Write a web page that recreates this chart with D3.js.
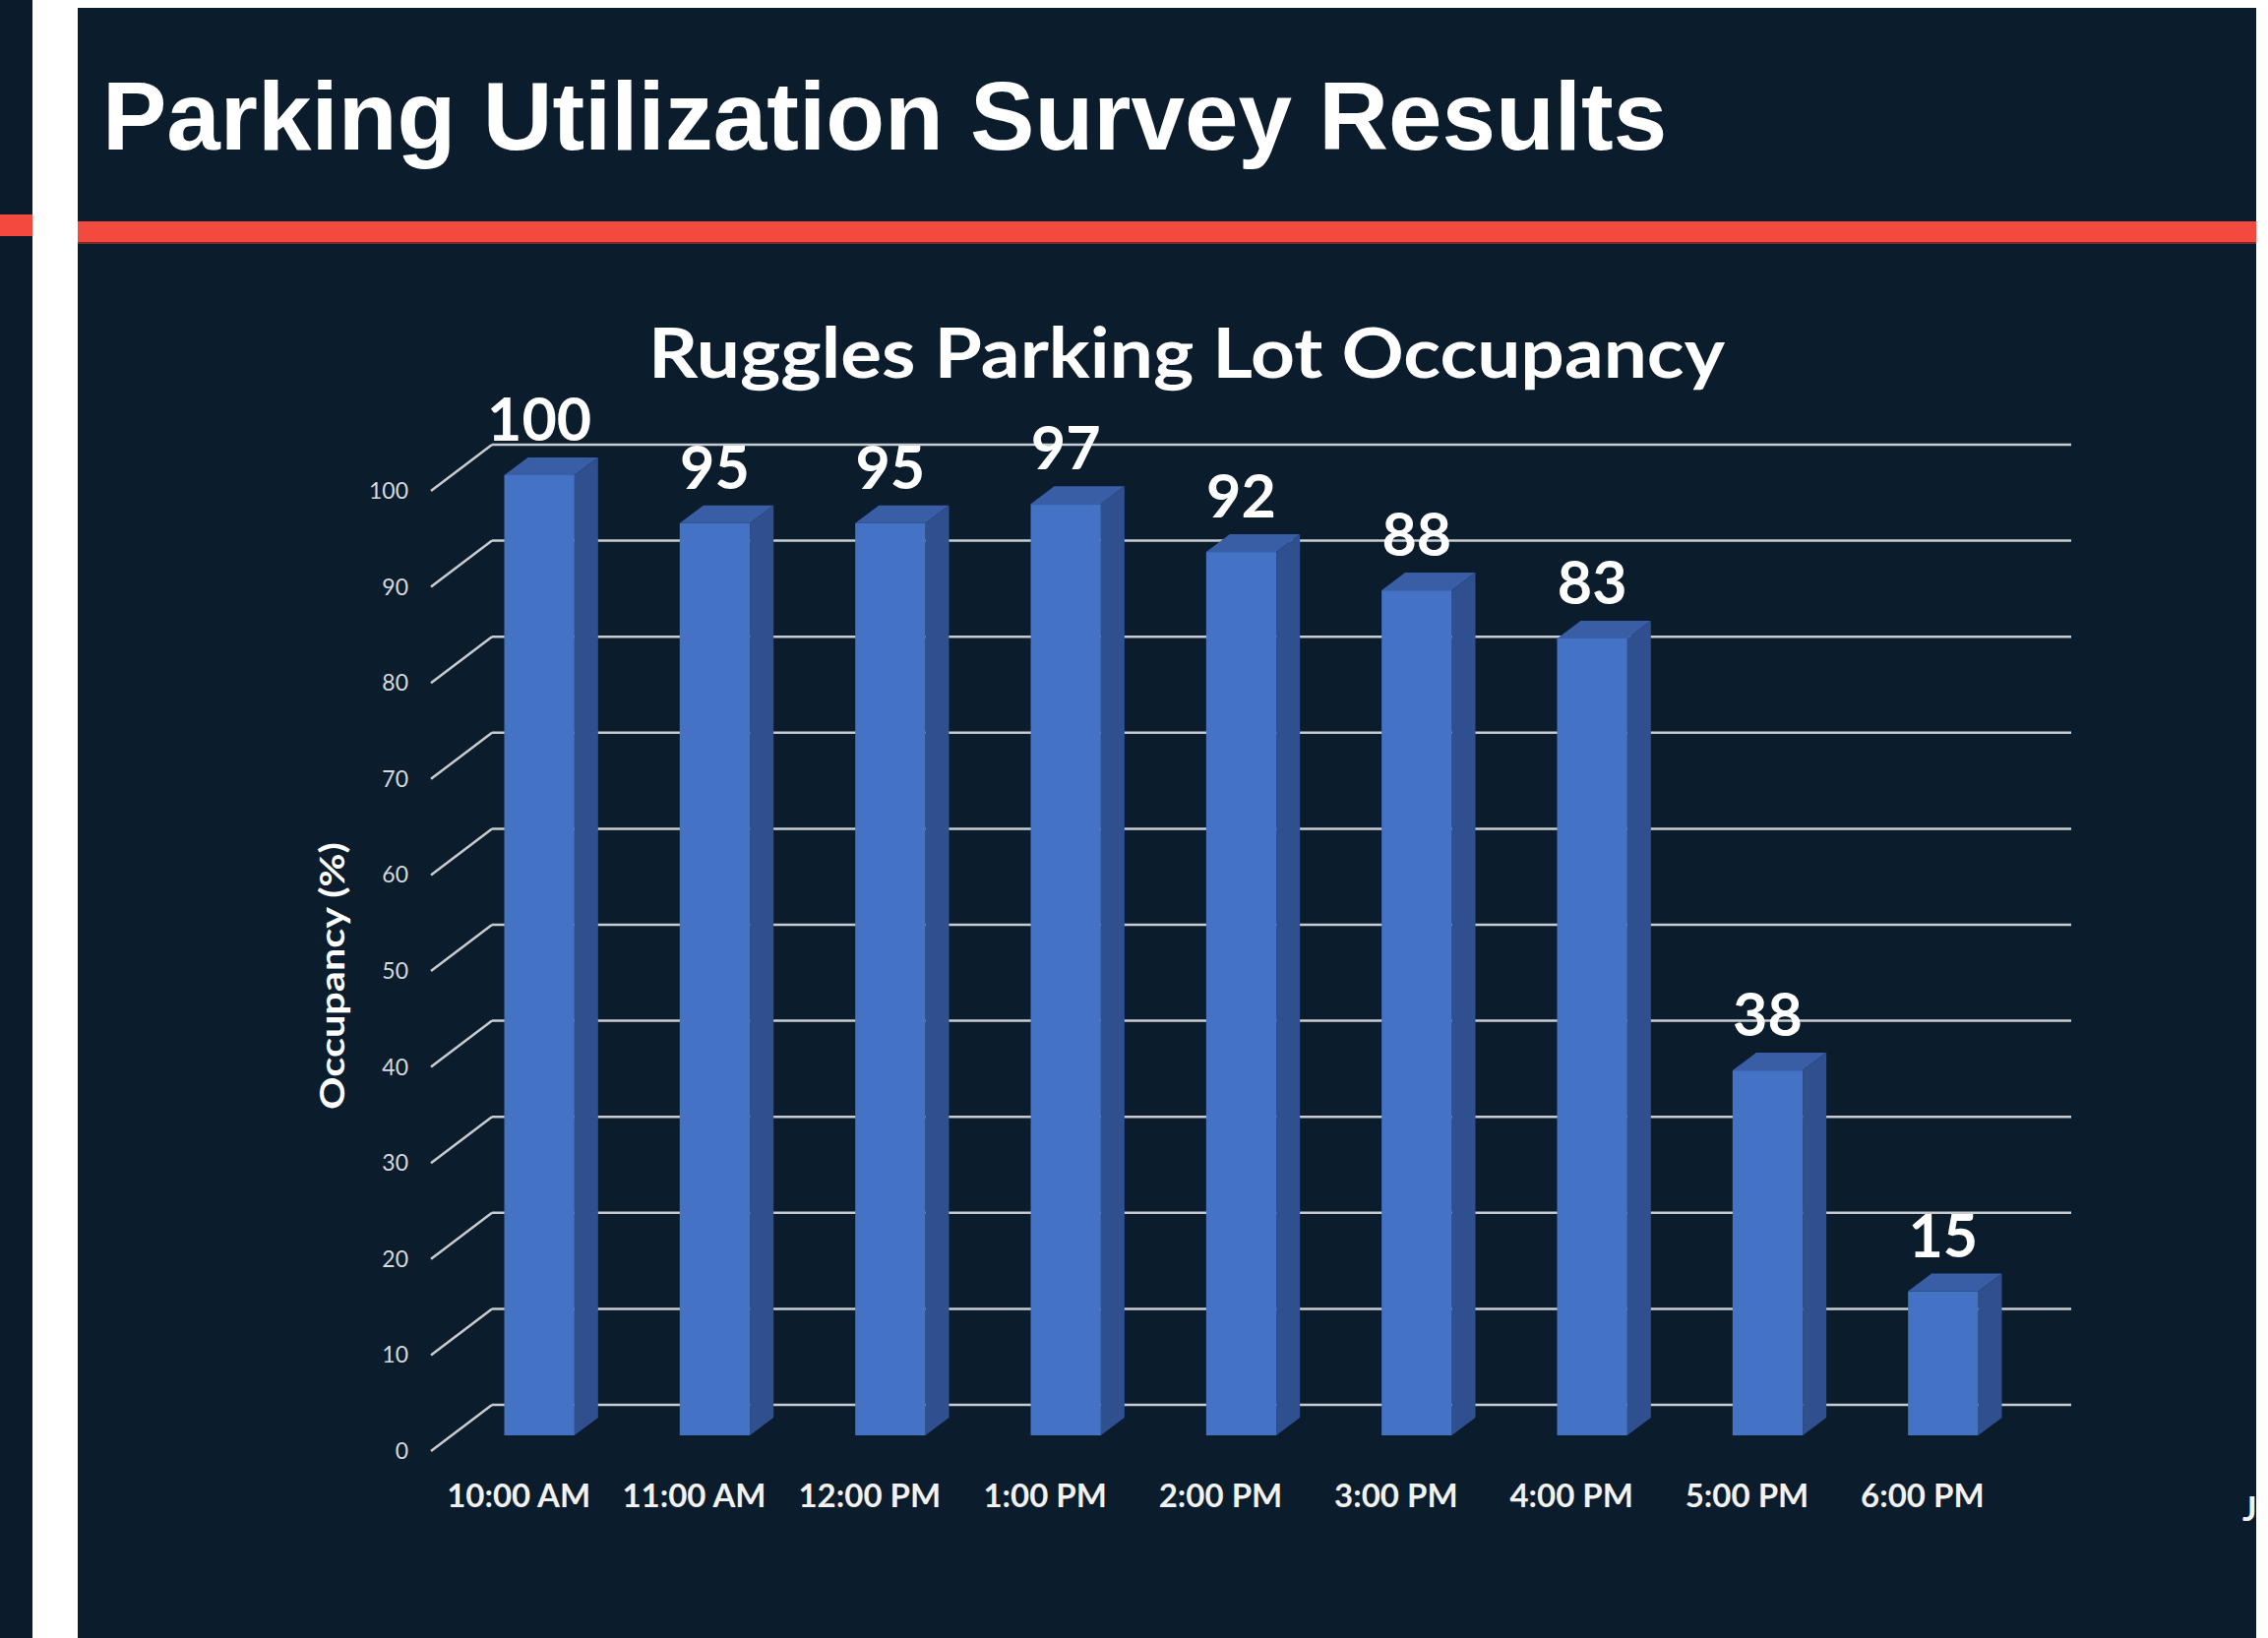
<!DOCTYPE html>
<html>
<head>
<meta charset="utf-8">
<script src="https://cdn.jsdelivr.net/npm/d3@7"></script>
<style>
  body { margin: 0; background: #ffffff; }
  svg { display: block; }
</style>
</head>
<body>
<div id="chart"></div>
<script>
// data
var times = ["10:00 AM", "11:00 AM", "12:00 PM", "1:00 PM", "2:00 PM", "3:00 PM", "4:00 PM", "5:00 PM", "6:00 PM"];
var occupancy = [100, 95, 95, 97, 92, 88, 83, 38, 15];
var yTicks = [0, 10, 20, 30, 40, 50, 60, 70, 80, 90, 100];

var W = 2305, H = 1665;
var svg = d3.select("#chart").append("svg").attr("width", W).attr("height", H);

// slide background
svg.append("rect").attr("x", 0).attr("y", 0).attr("width", 33).attr("height", H).attr("fill", "#0b1b2b");
svg.append("rect").attr("x", 79).attr("y", 8).attr("width", 2293 - 79).attr("height", H - 8).attr("fill", "#0b1c2c");
svg.append("rect").attr("x", 0).attr("y", 218).attr("width", 33).attr("height", 22).attr("fill", "#f24a3f");
svg.append("rect").attr("x", 79).attr("y", 225).attr("width", 2293 - 79).attr("height", 21).attr("fill", "#f24a3f");
svg.append("rect").attr("x", 79).attr("y", 246).attr("width", 2293 - 79).attr("height", 2).attr("fill", "#7a2a2a");

svg.append("text")
   .attr("x", 104).attr("y", 152)
   .attr("font-family", "Liberation Sans, Arial, sans-serif")
   .attr("font-weight", "bold").attr("font-size", 98)
   .attr("fill", "#ffffff")
   .text("Parking Utilization Survey Results");

// chart title
svg.append("text")
   .attr("x", 659).attr("y", 384)
   .attr("font-family", "Lato, sans-serif")
   .attr("font-weight", "bold").attr("font-size", 71)
   .attr("fill", "#ffffff")
   .attr("textLength", 1094).attr("lengthAdjust", "spacingAndGlyphs")
   .text("Ruggles Parking Lot Occupancy");

// scales (back wall of the 3d plot)
var x = d3.scaleBand().domain(times).range([500, 2105]);
var y = d3.scaleLinear().domain([0, 100]).range([1428, 452]);

// depth offsets
var floorDx = -62, floorDy = 47;   // back wall -> front of floor
var barDx = -41, barDy = 31;       // back wall -> front face of bars
var sideDx = 24, sideDy = -18;     // front face -> back face of a bar
var barW = x.bandwidth() * 0.4;

// gridlines
var grid = svg.append("g").attr("stroke", "#c9cdd2").attr("stroke-width", 2.5).attr("fill", "none");
grid.selectAll("line.h").data(yTicks).enter().append("line")
    .attr("class", "h")
    .attr("x1", 500).attr("x2", 2105)
    .attr("y1", d => y(d)).attr("y2", d => y(d));
grid.selectAll("line.d").data(yTicks).enter().append("line")
    .attr("class", "d")
    .attr("x1", 500).attr("y1", d => y(d))
    .attr("x2", 500 + floorDx).attr("y2", d => y(d) + floorDy);

// tick labels
svg.append("g").selectAll("text").data(yTicks).enter().append("text")
   .attr("x", 415).attr("y", d => y(d) + floorDy)
   .attr("dy", "0.35em")
   .attr("text-anchor", "end")
   .attr("font-family", "Lato, sans-serif").attr("font-size", 23)
   .attr("fill", "#d6d9dd")
   .text(d => d);

// bars
var bars = svg.append("g").selectAll("g").data(times).enter().append("g");
function xl(d) { return x(d) + x.bandwidth() / 2 + barDx - barW / 2; }
function yt(d, i) { return y(occupancy[i]) + barDy; }
var yb = y(0) + barDy;

bars.append("polygon")
    .attr("fill", "#3a5ea6")
    .attr("points", function (d, i) {
        var a = xl(d), b = a + barW, t = yt(d, i);
        return [[a, t], [b, t], [b + sideDx, t + sideDy], [a + sideDx, t + sideDy]].join(" ");
    });
bars.append("polygon")
    .attr("fill", "#2f4f8e")
    .attr("points", function (d, i) {
        var b = xl(d) + barW, t = yt(d, i);
        return [[b, t], [b + sideDx, t + sideDy], [b + sideDx, yb + sideDy], [b, yb]].join(" ");
    });
bars.append("rect")
    .attr("fill", "#4472c4")
    .attr("x", d => xl(d)).attr("width", barW)
    .attr("y", (d, i) => yt(d, i)).attr("height", (d, i) => yb - yt(d, i));

// value labels
bars.append("text")
    .attr("x", d => xl(d) + barW / 2)
    .attr("y", (d, i) => yt(d, i) - 35)
    .attr("text-anchor", "middle")
    .attr("font-family", "Lato, sans-serif").attr("font-weight", "bold").attr("font-size", 61)
    .attr("fill", "#ffffff")
    .text((d, i) => occupancy[i]);

// category labels along the front of the floor
svg.append("g").selectAll("text").data(times).enter().append("text")
   .attr("x", d => x(d) + x.bandwidth() / 2 + floorDx)
   .attr("y", 1532)
   .attr("text-anchor", "middle")
   .attr("font-family", "Lato, sans-serif").attr("font-weight", "bold").attr("font-size", 33)
   .attr("fill", "#f2f2f2")
   .text(d => d);

// axis title
svg.append("text")
   .attr("transform", "translate(350,992) rotate(-90)")
   .attr("text-anchor", "middle")
   .attr("font-family", "Lato, sans-serif").attr("font-weight", "bold").attr("font-size", 35)
   .attr("fill", "#ffffff")
   .attr("textLength", 272).attr("lengthAdjust", "spacingAndGlyphs")
   .text("Occupancy (%)");

// stray cut-off character at the slide edge
svg.append("text")
   .attr("x", 2279).attr("y", 1546)
   .attr("font-family", "Lato, sans-serif").attr("font-weight", "bold").attr("font-size", 34)
   .attr("fill", "#f2f2f2")
   .text("J");
</script>
</body>
</html>
